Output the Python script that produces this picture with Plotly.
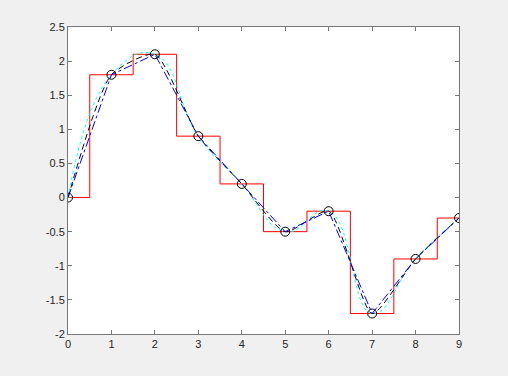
import plotly.graph_objects as go

x = [0, 1, 2, 3, 4, 5, 6, 7, 8, 9]
v = [0, 1.8, 2.1, 0.9, 0.2, -0.5, -0.2, -1.7, -0.9, -0.3]

x_ticks = [0, 1, 2, 3, 4, 5, 6, 7, 8, 9]
x_ticktext = ["0", "1", "2", "3", "4", "5", "6", "7", "8", "9"]
y_ticks = [-2, -1.5, -1, -0.5, 0, 0.5, 1, 1.5, 2, 2.5]
y_ticktext = ["-2", "-1.5", "-1", "-0.5", "0", "0.5", "1", "1.5", "2", "2.5"]

fig = go.Figure()
# nearest (red stairs)
fig.add_trace(go.Scatter(x=x, y=v, mode="lines", line=dict(color="#ff0000", width=1, shape="hvh")))
# spline (cyan dotted)
fig.add_trace(go.Scatter(x=x, y=v, mode="lines",
                         line=dict(color="#00ffff", width=1, dash="dot", shape="spline", smoothing=1.3)))
# pchip (black dashed)
fig.add_trace(go.Scatter(x=x, y=v, mode="lines",
                         line=dict(color="#000000", width=1, dash="6px,4px", shape="spline", smoothing=0.6)))
# linear (blue dash-dot)
fig.add_trace(go.Scatter(x=x, y=v, mode="lines",
                         line=dict(color="#0000ff", width=1, dash="dashdot")))
# data points
fig.add_trace(go.Scatter(x=x, y=v, mode="markers",
                         marker=dict(symbol="circle-open", size=9, color="#000000", line=dict(width=1))))

axis_common = dict(showgrid=False, zeroline=False, showline=True, mirror="ticks",
                   linecolor="#777777", linewidth=1, ticks="inside", ticklen=4,
                   tickcolor="#777777", tickfont=dict(family="Liberation Sans, Arial", size=11, color="#262626"))

fig.update_xaxes(range=[0, 9], tickvals=x_ticks, ticktext=x_ticktext, **axis_common)
fig.update_yaxes(range=[-2, 2.5], tickvals=y_ticks, ticktext=y_ticktext, **axis_common)

fig.update_layout(width=508, height=376, showlegend=False,
                  paper_bgcolor="#f0f0f0", plot_bgcolor="#ffffff",
                  margin=dict(l=68, r=49, t=27, b=42))

fig.write_html("out.html")
